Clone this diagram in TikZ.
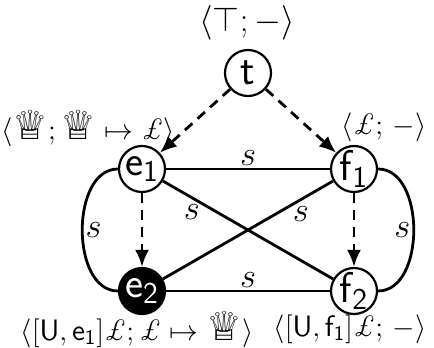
\documentclass[tikz,border=0pt]{standalone}
\usepackage{fontspec}
\newfontfamily\dejavu{DejaVu Sans}
\usetikzlibrary{arrows.meta}
\newcommand{\Qn}{\mbox{\dejavu\fontsize{20}{20}\selectfont ♕}}
\newcommand{\Lb}{\mbox{\itshape £}}
\begin{document}
\begin{tikzpicture}[x=0.5pt,y=-0.5pt,font=\fontsize{14.8}{18}\selectfont,
  vert/.style={circle,draw,line width=1.1pt,minimum size=23pt,inner sep=0pt},
  vtext/.style={font=\fontsize{21.5}{23}\selectfont,inner sep=0pt},
  edge/.style={line width=1.4pt},
  dep/.style={line width=1.4pt,dash pattern=on 5pt off 3.5pt,-{Latex[length=8.5pt,width=7pt]}},
  lbl/.style={inner sep=1pt},
  elbl/.style={inner sep=1pt,font=\fontsize{19}{21}\selectfont}]
\useasboundingbox (0,0) rectangle (434,348);
\node[vert,label={[vtext,name=tt]center:$\mathsf{t}$}] (t) at (248,73) {};
\node[vert,label={[vtext,name=te1]center:$\mathsf{e}_{\mathsf{1}}$}] (e1) at (142,169) {};
\node[vert,label={[vtext,name=tf1]center:$\mathsf{f}_{\mathsf{1}}$}] (f1) at (354,169) {};
\node[vert,fill=black,label={[vtext,text=white,name=te2]center:$\mathsf{e}_{\mathsf{2}}$}] (e2) at (142,291) {};
\node[vert,label={[vtext,name=tf2]center:$\mathsf{f}_{\mathsf{2}}$}] (f2) at (354,291) {};
\node[lbl,font=\fontsize{17.5}{20}\selectfont] (lt) at (247,23) {$\langle\top;-\rangle$};
\node[lbl] (le1) at (88,128) {$\langle\Qn;\Qn\mapsto\Lb\rangle$};
\node[lbl] (lf1) at (384,127) {$\langle\Lb;\,-\rangle$};
\node[lbl] (le2) at (137,329) {$\bigl\langle[\mathsf{U},\mathsf{e}_{\mathsf{1}}]\Lb;\Lb\mapsto\Qn\bigr\rangle$};
\node[lbl] (lf2) at (350,329) {$\bigl\langle[\mathsf{U},\mathsf{f}_{\mathsf{1}}]\Lb;\,-\bigr\rangle$};
\draw[edge] (e1) -- node[elbl,above] {$s$} (f1);
\draw[edge] (e2) -- node[elbl,above] {$s$} (f2);
\draw[edge] (e1) -- node[elbl,pos=0.17,below=2pt] {$s$} (f2);
\draw[edge] (f1) -- node[elbl,pos=0.19,below=2pt] {$s$} (e2);
\draw[edge] (e1) to[out=180,in=180,looseness=1.0] node[elbl,right] {$s$} (e2);
\draw[edge] (f1) to[out=0,in=0,looseness=1.0] node[elbl,left] {$s$} (f2);
\draw[dep] (t) -- (e1);
\draw[dep] (t) -- (f1);
\draw[dep] (e1) -- (e2);
\draw[dep] (f1) -- (f2);
\end{tikzpicture}
\end{document}
